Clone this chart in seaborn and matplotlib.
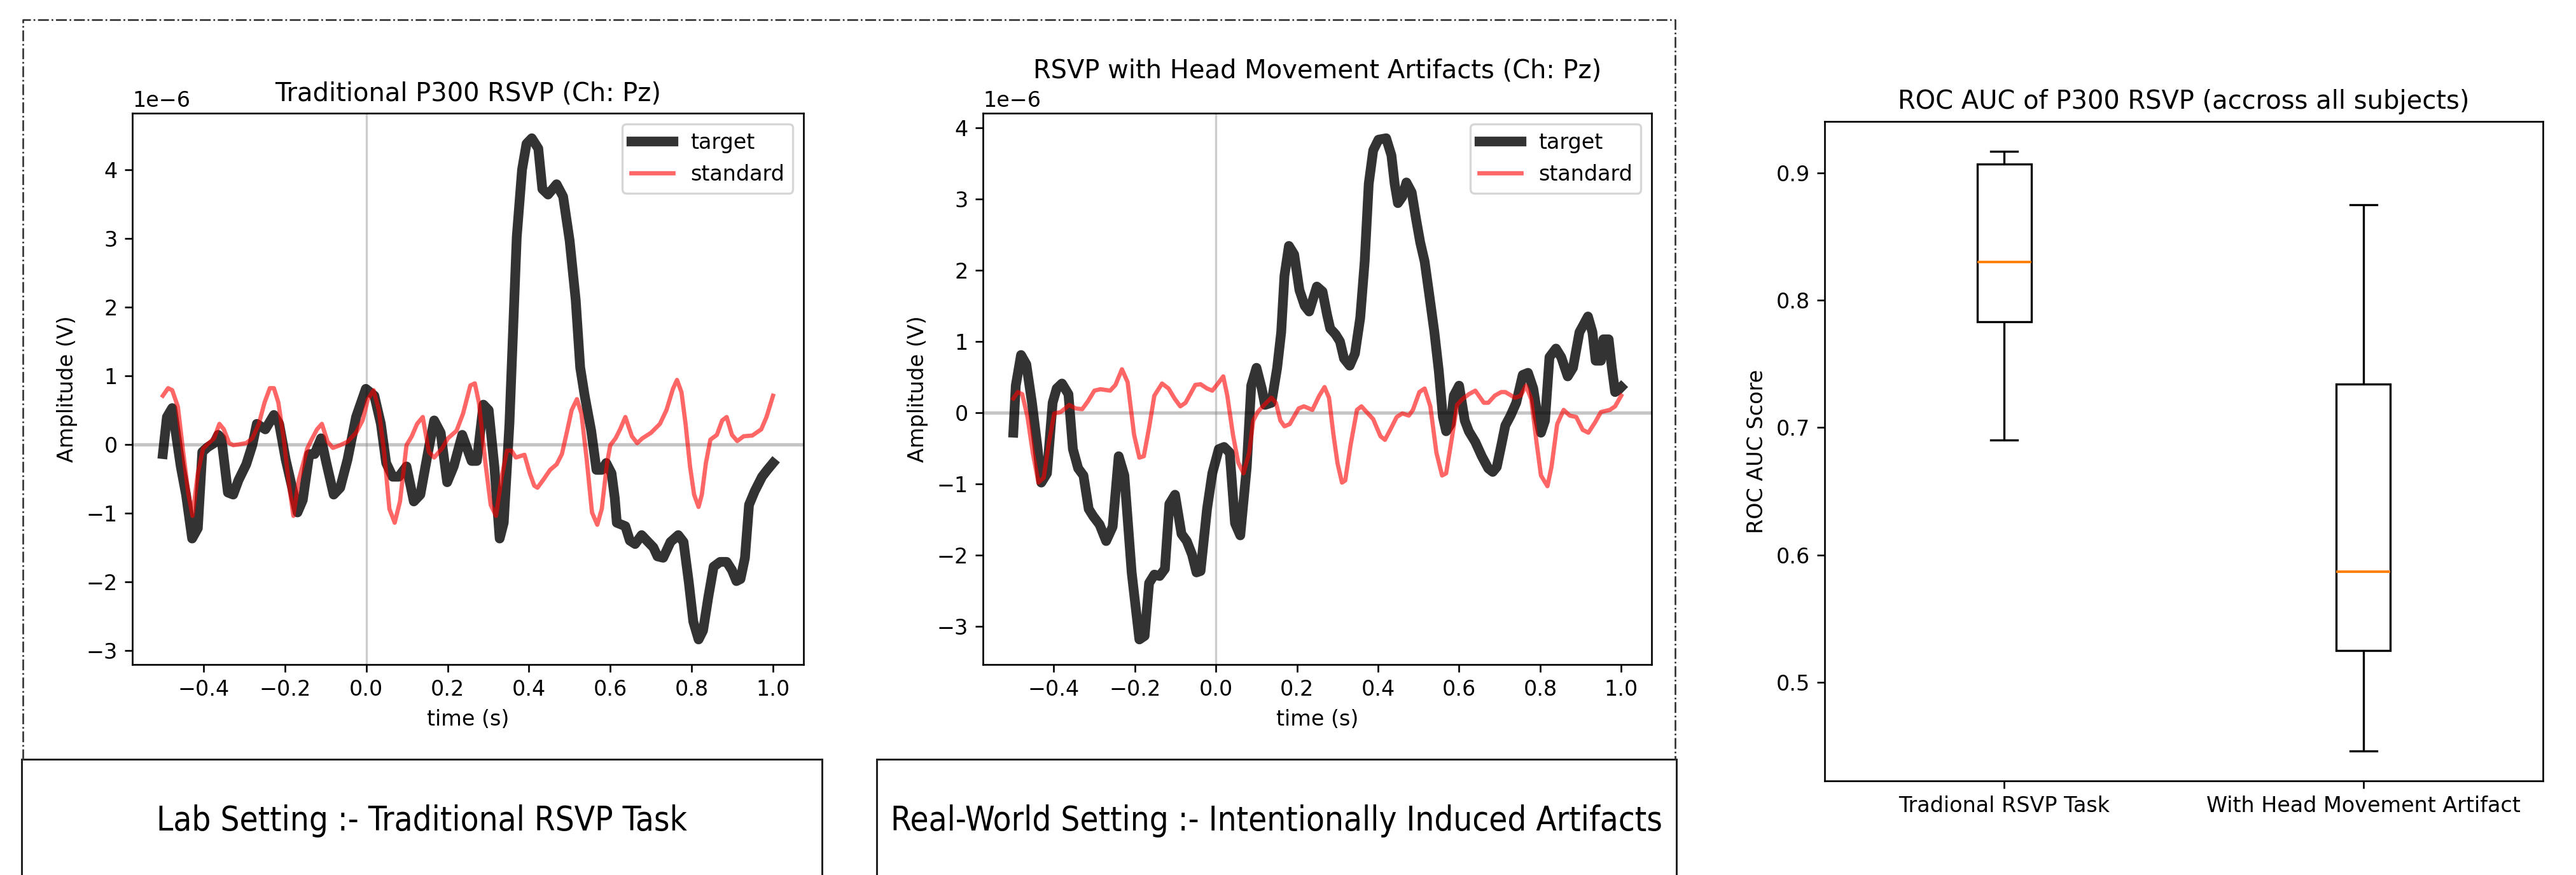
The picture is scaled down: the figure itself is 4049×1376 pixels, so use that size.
import numpy as np
import pandas as pd
import matplotlib
matplotlib.use('Agg')
import matplotlib.pyplot as plt
import seaborn as sns
from matplotlib.patches import Rectangle
from matplotlib.lines import Line2D

# %%
# ERP traces (time in s, amplitude in microvolts)
lab_target_t = [-0.50, -0.49, -0.477, -0.456, -0.443, -0.428, -0.414, -0.403, -0.39, -0.374,
                -0.364, -0.356, -0.34, -0.327, -0.314, -0.295, -0.28, -0.269, -0.248, -0.227,
                -0.214, -0.198, -0.182, -0.169, -0.156, -0.14, -0.127, -0.111, -0.098, -0.08,
                -0.064, -0.046, -0.025, -0.001, 0.02, 0.036, 0.049, 0.065, 0.08, 0.099,
                0.117, 0.133, 0.152, 0.167, 0.183, 0.199, 0.215, 0.236, 0.259, 0.272,
                0.288, 0.301, 0.315, 0.328, 0.338, 0.352, 0.37, 0.383, 0.394, 0.407,
                0.423, 0.433, 0.447, 0.468, 0.484, 0.5, 0.515, 0.526, 0.537, 0.553,
                0.566, 0.579, 0.59, 0.603, 0.611, 0.616, 0.637, 0.648, 0.661, 0.677,
                0.693, 0.706, 0.716, 0.73, 0.748, 0.767, 0.78, 0.793, 0.804, 0.817,
                0.828, 0.841, 0.854, 0.87, 0.886, 0.899, 0.91, 0.92, 0.931, 0.941,
                0.955, 0.973, 0.986, 1.0]
lab_target_uv = [-0.14, 0.40, 0.53, -0.32, -0.73, -1.37, -1.22, -0.11, -0.04, 0.02,
                 0.14, 0.09, -0.70, -0.73, -0.52, -0.29, -0.01, 0.30, 0.22, 0.43,
                 0.30, -0.22, -0.63, -0.99, -0.81, -0.14, -0.14, 0.09, -0.27, -0.73,
                 -0.63, -0.22, 0.40, 0.81, 0.71, 0.30, -0.27, -0.47, -0.47, -0.32,
                 -0.83, -0.73, -0.11, 0.35, 0.17, -0.55, -0.32, 0.14, -0.24, -0.24,
                 0.58, 0.50, -0.32, -1.37, -1.14, 0.30, 3.02, 4.0, 4.38, 4.46,
                 4.31, 3.72, 3.64, 3.79, 3.61, 2.97, 2.10, 1.12, 0.71, 0.20,
                 -0.37, -0.37, -0.27, -0.42, -0.78, -1.14, -1.19, -1.40, -1.45, -1.32,
                 -1.42, -1.50, -1.63, -1.65, -1.42, -1.32, -1.42, -2.01, -2.58, -2.84,
                 -2.71, -2.22, -1.78, -1.71, -1.71, -1.83, -1.99, -1.96, -1.65, -0.88,
                 -0.68, -0.47, -0.37, -0.27]

lab_standard_t = [-0.50, -0.487, -0.477, -0.463, -0.45, -0.437, -0.427, -0.414, -0.401, -0.387,
                  -0.374, -0.361, -0.35, -0.337, -0.327, -0.314, -0.295, -0.28, -0.264, -0.25,
                  -0.237, -0.227, -0.216, -0.203, -0.19, -0.179, -0.166, -0.145, -0.137, -0.121,
                  -0.109, -0.095, -0.082, -0.064, -0.046, -0.025, -0.009, 0.004, 0.018, 0.031,
                  0.044, 0.057, 0.07, 0.083, 0.099, 0.112, 0.125, 0.139, 0.154, 0.167,
                  0.186, 0.201, 0.222, 0.238, 0.256, 0.267, 0.277, 0.293, 0.306, 0.319,
                  0.333, 0.346, 0.357, 0.368, 0.389, 0.402, 0.413, 0.421, 0.437, 0.452,
                  0.468, 0.481, 0.494, 0.505, 0.518, 0.529, 0.542, 0.555, 0.568, 0.579,
                  0.592, 0.60, 0.613, 0.624, 0.637, 0.653, 0.666, 0.679, 0.70, 0.722,
                  0.738, 0.754, 0.764, 0.775, 0.785, 0.796, 0.806, 0.817, 0.825, 0.835,
                  0.846, 0.862, 0.875, 0.886, 0.899, 0.912, 0.928, 0.949, 0.971, 0.984,
                  1.0]
lab_standard_uv = [0.71, 0.82, 0.79, 0.55, -0.11, -0.73, -1.04, -0.42, -0.06, 0.02,
                   0.09, 0.30, 0.22, 0.02, -0.01, 0.0, 0.02, 0.09, 0.30, 0.61,
                   0.82, 0.82, 0.61, 0.09, -0.58, -1.04, -0.52, -0.06, 0.04, 0.22,
                   0.30, 0.04, -0.05, -0.01, 0.04, 0.17, 0.35, 0.66, 0.79, 0.50,
                   -0.11, -0.94, -1.14, -0.83, -0.01, 0.12, 0.30, 0.40, -0.11, -0.19,
                   -0.06, 0.09, 0.20, 0.45, 0.86, 0.89, 0.61, -0.27, -0.88, -1.04,
                   -0.47, -0.09, -0.09, -0.19, -0.15, -0.42, -0.60, -0.63, -0.50, -0.37,
                   -0.29, -0.14, 0.20, 0.50, 0.66, 0.45, -0.22, -0.99, -1.17, -0.94,
                   -0.27, -0.01, 0.09, 0.22, 0.40, 0.12, 0.02, 0.09, 0.17, 0.30,
                   0.50, 0.81, 0.94, 0.76, 0.30, -0.32, -0.73, -0.91, -0.73, -0.27,
                   0.07, 0.14, 0.35, 0.40, 0.14, 0.05, 0.12, 0.13, 0.22, 0.40,
                   0.71]

art_target_t = [-0.50, -0.494, -0.481, -0.468, -0.454, -0.441, -0.431, -0.417, -0.403, -0.393,
                -0.38, -0.364, -0.353, -0.34, -0.327, -0.314, -0.303, -0.287, -0.271, -0.255,
                -0.24, -0.226, -0.208, -0.189, -0.176, -0.165, -0.152, -0.139, -0.126, -0.115,
                -0.101, -0.085, -0.072, -0.059, -0.048, -0.038, -0.022, -0.009, 0.007, 0.02,
                0.034, 0.047, 0.06, 0.076, 0.087, 0.10, 0.113, 0.121, 0.137, 0.151,
                0.161, 0.169, 0.18, 0.193, 0.206, 0.219, 0.23, 0.249, 0.263, 0.274,
                0.282, 0.295, 0.306, 0.316, 0.33, 0.343, 0.356, 0.367, 0.377, 0.388,
                0.401, 0.42, 0.433, 0.441, 0.449, 0.46, 0.47, 0.483, 0.494, 0.504,
                0.515, 0.526, 0.539, 0.55, 0.56, 0.568, 0.579, 0.587, 0.60, 0.614,
                0.624, 0.64, 0.656, 0.672, 0.683, 0.693, 0.704, 0.714, 0.727, 0.741,
                0.757, 0.77, 0.783, 0.794, 0.802, 0.812, 0.823, 0.839, 0.852, 0.868,
                0.881, 0.897, 0.918, 0.929, 0.937, 0.95, 0.956, 0.969, 0.977, 0.985,
                0.993, 1.0]
art_target_uv = [-0.28, 0.38, 0.81, 0.68, 0.14, -0.46, -0.98, -0.85, 0.14, 0.34,
                 0.41, 0.26, -0.51, -0.78, -0.88, -1.35, -1.45, -1.57, -1.80, -1.60,
                 -0.61, -0.88, -2.24, -3.18, -3.13, -2.39, -2.27, -2.29, -2.19, -1.28,
                 -1.15, -1.70, -1.80, -1.99, -2.24, -2.22, -1.35, -0.85, -0.51, -0.48,
                 -0.56, -1.55, -1.72, -0.76, 0.38, 0.63, 0.34, 0.11, 0.14, 0.63,
                 1.13, 1.92, 2.34, 2.22, 1.72, 1.50, 1.42, 1.77, 1.70, 1.38,
                 1.18, 1.10, 1.00, 0.76, 0.66, 0.83, 1.33, 2.12, 3.21, 3.68,
                 3.83, 3.85, 3.61, 3.21, 2.94, 3.03, 3.23, 3.09, 2.71, 2.39,
                 2.12, 1.67, 1.13, 0.58, -0.06, -0.26, -0.16, 0.24, 0.38, -0.11,
                 -0.26, -0.41, -0.61, -0.78, -0.83, -0.76, -0.46, -0.18, -0.04, 0.14,
                 0.53, 0.56, 0.34, -0.06, -0.28, -0.11, 0.78, 0.90, 0.78, 0.51,
                 0.63, 1.13, 1.35, 1.13, 0.73, 0.73, 1.03, 1.03, 0.63, 0.29,
                 0.32, 0.36]

art_standard_t = [-0.50, -0.489, -0.478, -0.465, -0.452, -0.438, -0.425, -0.412, -0.399, -0.383,
                  -0.362, -0.346, -0.33, -0.316, -0.30, -0.285, -0.261, -0.248, -0.232, -0.218,
                  -0.202, -0.189, -0.178, -0.165, -0.152, -0.133, -0.117, -0.101, -0.088, -0.075,
                  -0.051, -0.038, -0.022, -0.009, 0.005, 0.018, 0.028, 0.042, 0.055, 0.068,
                  0.082, 0.092, 0.103, 0.119, 0.137, 0.148, 0.159, 0.169, 0.182, 0.204,
                  0.217, 0.238, 0.255, 0.268, 0.279, 0.29, 0.30, 0.311, 0.319, 0.332,
                  0.348, 0.359, 0.375, 0.388, 0.406, 0.417, 0.43, 0.446, 0.46, 0.476,
                  0.486, 0.502, 0.515, 0.529, 0.544, 0.558, 0.568, 0.582, 0.595, 0.608,
                  0.624, 0.64, 0.661, 0.672, 0.688, 0.704, 0.714, 0.738, 0.752, 0.765,
                  0.778, 0.791, 0.802, 0.818, 0.828, 0.842, 0.858, 0.873, 0.889, 0.905,
                  0.919, 0.935, 0.95, 0.972, 0.985, 1.0]
art_standard_uv = [0.20, 0.29, 0.26, -0.06, -0.56, -0.98, -0.91, -0.41, -0.01, 0.01,
                   0.11, 0.06, 0.05, 0.16, 0.31, 0.33, 0.31, 0.39, 0.61, 0.43,
                   -0.31, -0.63, -0.61, -0.21, 0.24, 0.41, 0.34, 0.19, 0.09, 0.14,
                   0.39, 0.40, 0.34, 0.31, 0.41, 0.51, 0.24, -0.31, -0.70, -0.85,
                   -0.56, -0.11, 0.01, 0.11, 0.21, 0.14, -0.11, -0.19, -0.16, 0.06,
                   0.09, 0.04, 0.24, 0.36, 0.21, -0.31, -0.71, -0.98, -0.95, -0.46,
                   0.04, 0.09, -0.01, -0.09, -0.33, -0.38, -0.24, -0.06, -0.01, -0.04,
                   0.04, 0.29, 0.34, 0.09, -0.56, -0.88, -0.85, -0.36, 0.11, 0.19,
                   0.26, 0.31, 0.14, 0.14, 0.24, 0.29, 0.29, 0.21, 0.24, 0.38,
                   0.19, -0.41, -0.88, -1.03, -0.76, -0.16, 0.04, -0.04, -0.06, -0.24,
                   -0.28, -0.14, 0.01, 0.04, 0.09, 0.24]

# ROC AUC per subject (values giving the drawn box statistics)
box_labels = ['Tradional RSVP Task', 'With Head Movement Artifact']
trad_auc = [0.690, 0.783, 0.830, 0.907, 0.917]
artifact_auc = [0.446, 0.525, 0.587, 0.734, 0.875]

# %%
W, H, DPI = 4049, 1376, 240
fig = plt.figure(figsize=(W / DPI, H / DPI), dpi=DPI)


def fig_rect(x0, y0, x1, y1):
    # pixel box (top-left origin) -> figure fraction [left, bottom, width, height]
    return [x0 / W, 1 - y1 / H, (x1 - x0) / W, (y1 - y0) / H]


ax1 = fig.add_axes(fig_rect(208, 178, 1263, 1045))
ax2 = fig.add_axes(fig_rect(1545, 178, 2596, 1045))
ax3 = fig.add_axes(fig_rect(2868, 191, 3997, 1228))


def erp_panel(ax, t_tgt, v_tgt, t_std, v_std, title):
    ax.axvline(0, color='grey', alpha=0.4, lw=1.0, zorder=0)
    ax.axhline(0, color='grey', alpha=0.45, lw=1.6, zorder=0)
    sns.lineplot(x=t_tgt, y=np.array(v_tgt) * 1e-6, ax=ax, color='black', alpha=0.8,
                 lw=4.6, label='target', errorbar=None)
    sns.lineplot(x=t_std, y=np.array(v_std) * 1e-6, ax=ax, color='red', alpha=0.6,
                 lw=2.0, label='standard', errorbar=None)
    ax.set_title(title)
    ax.set_xlabel('time (s)')
    ax.set_ylabel('Amplitude (V)')
    ax.set_xticks([-0.4, -0.2, 0.0, 0.2, 0.4, 0.6, 0.8, 1.0])
    ax.legend(loc='upper right')


erp_panel(ax1, lab_target_t, lab_target_uv, lab_standard_t, lab_standard_uv,
          'Traditional P300 RSVP (Ch: Pz)')
erp_panel(ax2, art_target_t, art_target_uv, art_standard_t, art_standard_uv,
          'RSVP with Head Movement Artifacts (Ch: Pz)')

# %%
# Box plot of ROC AUC
auc_df = pd.DataFrame({
    'condition': [box_labels[0]] * len(trad_auc) + [box_labels[1]] * len(artifact_auc),
    'auc': trad_auc + artifact_auc,
})
sns.boxplot(data=auc_df, x='condition', y='auc', ax=ax3, width=0.15,
            color='white', linecolor='black', linewidth=1.0,
            medianprops={'color': '#ff7f0e', 'linewidth': 1.2})
ax3.set_title('ROC AUC of P300 RSVP (accross all subjects)')
ax3.set_xlabel('')
ax3.set_ylabel('ROC AUC Score')
ax3.set_yticks([0.5, 0.6, 0.7, 0.8, 0.9])

# %%
# Dash-dot frame (open at the bottom) around the two ERP panels
fx = np.array([36, 36, 2633, 2633]) / W
fy = 1 - np.array([1195, 31, 31, 1195]) / H
fig.add_artist(Line2D(fx, fy, transform=fig.transFigure, ls='-.', lw=0.8,
                      color='#333333'))

# caption boxes below the ERP panels
captions = ['Lab Setting :- Traditional RSVP Task',
            'Real-World Setting :- Intentionally Induced Artifacts']
for (x0, x1), txt in zip([(34, 1292), (1378, 2635)], captions):
    fig.add_artist(Rectangle((x0 / W, -0.05), (x1 - x0) / W, 0.05 + (1376 - 1194) / H,
                             transform=fig.transFigure, fill=False, lw=0.9,
                             edgecolor='#222222'))
    fig.text((x0 + x1) / 2 / W, 1 - 1291 / H, txt, ha='center', va='center',
             fontsize=15.8, family=['Liberation Sans Narrow', 'DejaVu Sans'],
             fontstretch='condensed')

fig.savefig('out.png', dpi=DPI)
